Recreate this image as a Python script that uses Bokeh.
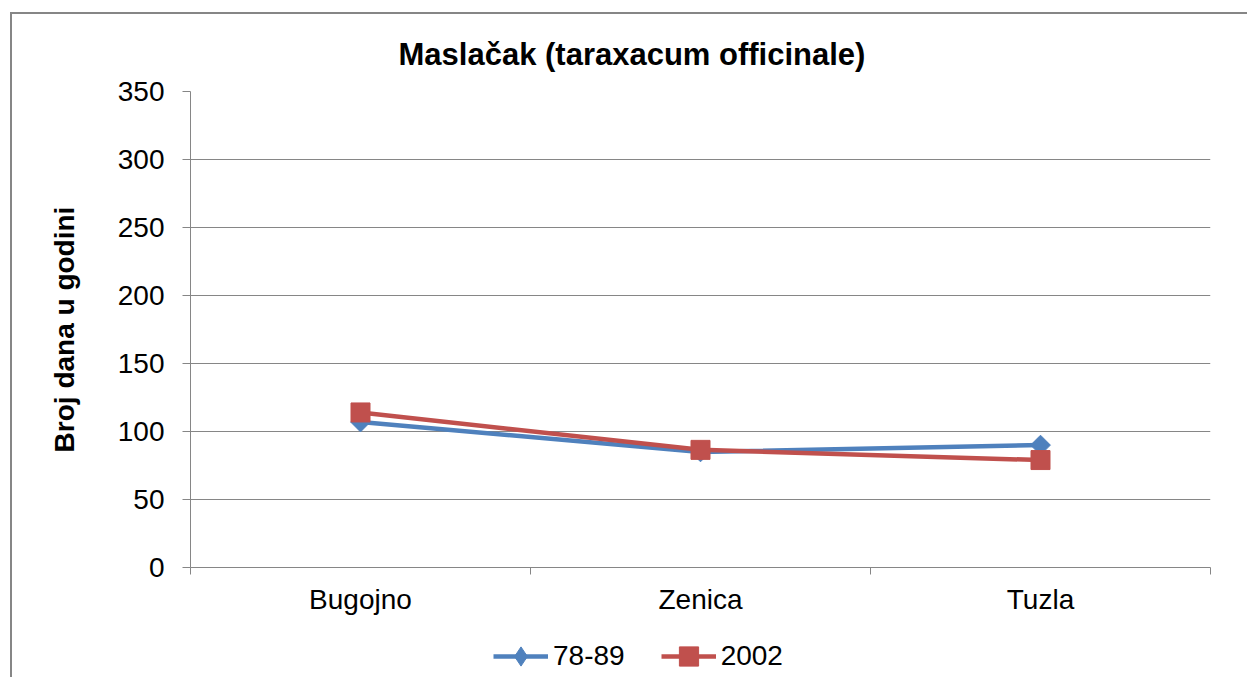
from bokeh.plotting import figure
from bokeh.layouts import column
from bokeh.models import (FixedTicker, Legend, LegendItem, ColumnDataSource, Range1d)
from bokeh.embed import file_html
from bokeh.resources import INLINE
import numpy as np

title_text = "Maslačak (taraxacum officinale)"
y_label = "Broj dana u godini"
cities = ["Bugojno", "Zenica", "Tuzla"]
series_names = ["78-89", "2002"]
vals_7889 = [107, 85, 90]
vals_2002 = [114, 86.5, 79]
y_ticks = [0, 50, 100, 150, 200, 250, 300, 350]

FONT = "Liberation Sans"
GRAY = "#868686"
BLUE = "#4F81BD"
RED = "#C0504D"

xpos = [i + 0.5 for i in range(len(cities))]

W = 1235
p = figure(width=W, height=615, output_backend="svg", toolbar_location=None,
           x_range=Range1d(0, len(cities)), y_range=Range1d(0, 350),
           min_border_left=178, min_border_right=37, min_border_top=77,
           min_border_bottom=62)
p.outline_line_color = None
p.background_fill_color = "white"
p.border_fill_color = "white"

# title
p.title.text = title_text
p.title.text_font = FONT
p.title.text_font_size = "31px"
p.title.text_font_style = "bold"
p.title.text_color = "black"
p.title.align = "left"
p.title.offset = 208
p.title.standoff = 40

# x axis
xa = p.xaxis[0]
xa.ticker = FixedTicker(ticks=xpos, minor_ticks=list(range(len(cities) + 1)))
xa.major_label_overrides = {x: c for x, c in zip(xpos, cities)}
xa.major_tick_out = 0
xa.major_tick_in = 0
xa.minor_tick_out = 7
xa.minor_tick_in = 0
xa.minor_tick_line_color = GRAY
xa.axis_line_color = GRAY
xa.major_label_text_font = FONT
xa.major_label_text_font_size = "28px"
xa.major_label_text_color = "black"
xa.major_label_standoff = 9

# y axis
ya = p.yaxis[0]
ya.ticker = FixedTicker(ticks=y_ticks)
ya.major_tick_out = 8
ya.major_tick_in = 0
ya.minor_tick_out = 0
ya.minor_tick_in = 0
ya.major_tick_line_color = GRAY
ya.axis_line_color = GRAY
ya.major_label_text_font = FONT
ya.major_label_text_font_size = "28px"
ya.major_label_text_color = "black"
ya.major_label_standoff = 18
ya.axis_label = y_label
ya.axis_label_text_font = FONT
ya.axis_label_text_font_size = "28px"
ya.axis_label_text_font_style = "bold"
ya.axis_label_text_color = "black"
ya.axis_label_standoff = 35

p.xgrid.grid_line_color = None
p.ygrid.grid_line_color = GRAY
p.ygrid.grid_line_width = 1

src = ColumnDataSource(dict(x=xpos, a=vals_7889, b=vals_2002))

p.line("x", "a", source=src, line_color=BLUE, line_width=4.5)
p.scatter("x", "a", source=src, marker="square", angle=np.pi / 4, size=14,
          fill_color=BLUE, line_color=BLUE)
p.line("x", "b", source=src, line_color=RED, line_width=4.5)
p.scatter("x", "b", source=src, marker="square", size=19,
          fill_color=RED, line_color=RED)

# legend strip (separate small canvas so the legend is not clipped);
# its renderers reuse the data but lie far outside this strip's y range
q = figure(width=W, height=48, output_backend="svg", toolbar_location=None,
           x_range=Range1d(0, len(cities)), y_range=Range1d(1000, 1001),
           min_border_left=0, min_border_right=0, min_border_top=0,
           min_border_bottom=0)
q.axis.visible = False
q.grid.visible = False
q.outline_line_color = None
ql1 = q.line("x", "a", source=src, line_color=BLUE, line_width=4.5)
qm1 = q.scatter("x", "a", source=src, marker="diamond", size=19,
                fill_color=BLUE, line_color=BLUE)
ql2 = q.line("x", "b", source=src, line_color=RED, line_width=4.5)
qm2 = q.scatter("x", "b", source=src, marker="square", size=19,
                fill_color=RED, line_color=RED)

legend = Legend(items=[LegendItem(label=series_names[0], renderers=[ql1, qm1]),
                       LegendItem(label=series_names[1], renderers=[ql2, qm2])],
                location=(303, -3), orientation="horizontal",
                glyph_width=55, glyph_height=48, label_text_font=FONT,
                label_text_font_size="28px", label_text_color="black",
                label_standoff=5, spacing=36,
                padding=0, margin=0, border_line_color=None,
                background_fill_alpha=0, label_height=28)
q.add_layout(legend, "center")

layout = column(p, q, spacing=0,
                styles={"margin-left": "10px", "margin-top": "12px",
                        "border-left": "2px solid #868686",
                        "border-top": "2px solid #868686"})

open("out.html", "w").write(file_html(layout, INLINE))
